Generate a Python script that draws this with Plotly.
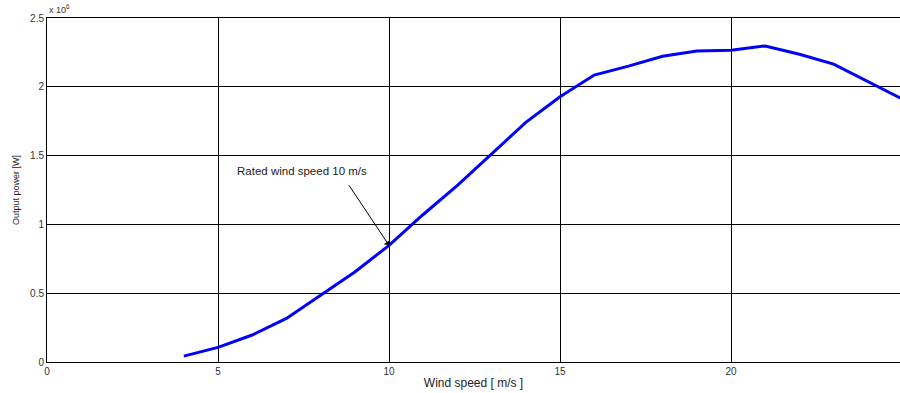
import plotly.graph_objects as go

wind_speed = [4, 5, 6, 7, 8, 9, 10, 11, 12, 13, 14, 15, 16, 17, 18, 19, 20, 21, 22, 23, 24, 25]
power_mw = [0.043, 0.106, 0.196, 0.317, 0.485, 0.654, 0.848, 1.072, 1.283, 1.512, 1.742, 1.928,
            2.085, 2.15, 2.222, 2.26, 2.266, 2.297, 2.237, 2.165, 2.036, 1.912]
power_w = [v * 1e6 for v in power_mw]

x_ticks = [0, 5, 10, 15, 20, 25]
y_ticks = [0, 0.5e6, 1e6, 1.5e6, 2e6, 2.5e6]
y_tick_text = ["0", "0.5", "1", "1.5", "2", "2.5"]

FONT = "Liberation Sans, Arial, sans-serif"

fig = go.Figure()
fig.add_trace(go.Scatter(x=wind_speed, y=power_w, mode="lines",
                         line=dict(color="rgb(0,0,255)", width=3), showlegend=False))

fig.add_annotation(x=10, y=0.848e6, ax=8.8, ay=1.295e6, xref="x", yref="y", axref="x", ayref="y",
                   text="", showarrow=True, arrowhead=1, arrowsize=1.3, arrowwidth=1, arrowcolor="black")
fig.add_annotation(x=7.47, y=1.386e6, xref="x", yref="y", text="Rated wind speed 10 m/s",
                   showarrow=False, font=dict(family=FONT, size=11.5, color="#222"))
fig.add_annotation(x=0, y=1, xref="paper", yref="paper", xanchor="left", yanchor="bottom",
                   text="x 10<sup>6</sup>", showarrow=False, yshift=1,
                   font=dict(family=FONT, size=9, color="#333"))

fig.update_layout(
    width=900, height=393,
    margin=dict(l=47, r=0, t=18, b=31),
    paper_bgcolor="white", plot_bgcolor="white",
    font=dict(family=FONT, size=10, color="#333"),
    xaxis=dict(range=[0, 24.94], tickvals=x_ticks, showgrid=True, gridcolor="black", gridwidth=1,
               zeroline=False, showline=True, linecolor="black", linewidth=1, mirror=True,
               ticks="inside", ticklen=3, tickcolor="black",
               title=dict(text="Wind speed [ m/s ]", font=dict(size=12, family=FONT, color="#222"), standoff=2),
               tickfont=dict(size=10)),
    yaxis=dict(range=[0, 2.5e6], tickvals=y_ticks, ticktext=y_tick_text, showgrid=True,
               gridcolor="black", gridwidth=1, zeroline=False, showline=True, linecolor="black",
               linewidth=1, ticks="inside", ticklen=3, tickcolor="black",
               title=dict(text="Output power [W]", font=dict(size=9, family=FONT, color="#222"), standoff=8),
               tickfont=dict(size=10)),
)

fig.write_html("out.html", config={"displayModeBar": False},
               post_script="document.body.style.margin='0';document.body.style.overflow='hidden';")
